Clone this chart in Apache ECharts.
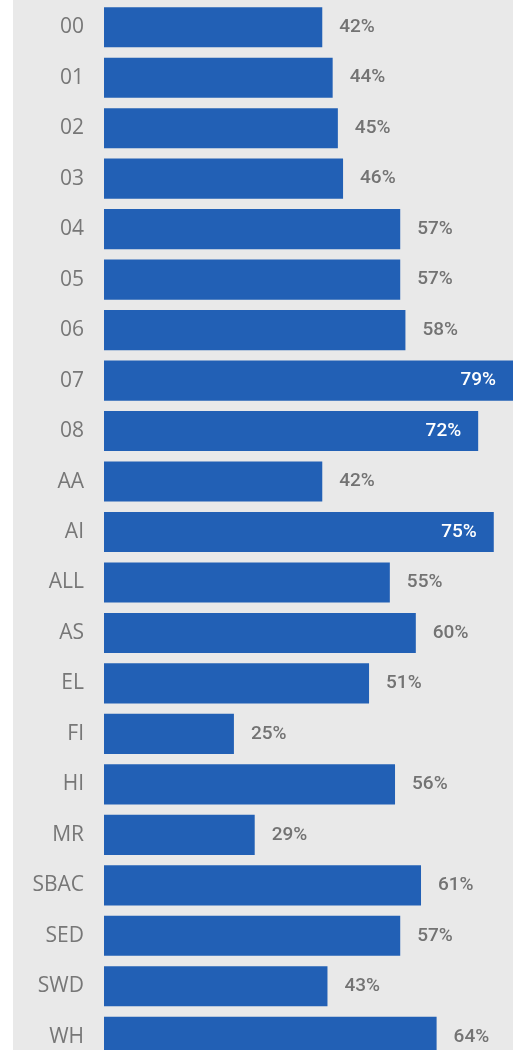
<!DOCTYPE html>
<html>
<head>
<meta charset="utf-8">
<script src="https://cdn.jsdelivr.net/npm/echarts@6/dist/echarts.min.js"></script>
<style>
  html, body { margin: 0; padding: 0; background: #ffffff; overflow: hidden; }
  #chart { position: absolute; left: 13px; top: 0; width: 500px; height: 1062px; background: #e9e9e9; }
</style>
</head>
<body>
<div id="chart"></div>
<script>
// Share of students by group (percent)
const categories = ['00', '01', '02', '03', '04', '05', '06', '07', '08', 'AA', 'AI',
  'ALL', 'AS', 'EL', 'FI', 'HI', 'MR', 'SBAC', 'SED', 'SWD', 'WH'];
const values = [42, 44, 45, 46, 57, 57, 58, 79, 72, 42, 75,
  55, 60, 51, 25, 56, 29, 61, 57, 43, 64];

// Long bars carry their label inside, in white
const insideThreshold = 70;

const chart = echarts.init(document.getElementById('chart'), null, { renderer: 'canvas' });

const labelFont = { fontFamily: 'Roboto', fontWeight: 500, fontSize: 19 };

chart.setOption({
  animation: false,
  grid: { left: 91, right: 0, top: 2, bottom: 0, containLabel: false },
  xAxis: {
    type: 'value', min: 0, max: 78.7,
    show: false
  },
  yAxis: {
    type: 'category',
    data: categories,
    inverse: true,
    axisLine: { show: false },
    axisTick: { show: false },
    splitLine: { show: false },
    axisLabel: {
      margin: 20,
      color: '#777777',
      fontFamily: 'Open Sans',
      fontWeight: 400,
      fontSize: 21
    }
  },
  series: [{
    type: 'bar',
    barCategoryGap: '20.5%',
    itemStyle: { color: '#2260b5' },
    data: values.map(v => ({
      value: v,
      label: v >= insideThreshold
        ? Object.assign({ show: true, position: 'insideRight', distance: 17, color: '#ffffff' }, labelFont)
        : Object.assign({ show: true, position: 'right', distance: 17, color: '#737373' }, labelFont)
    })),
    label: { formatter: p => p.value + '%' }
  }]
});
</script>
</body>
</html>
